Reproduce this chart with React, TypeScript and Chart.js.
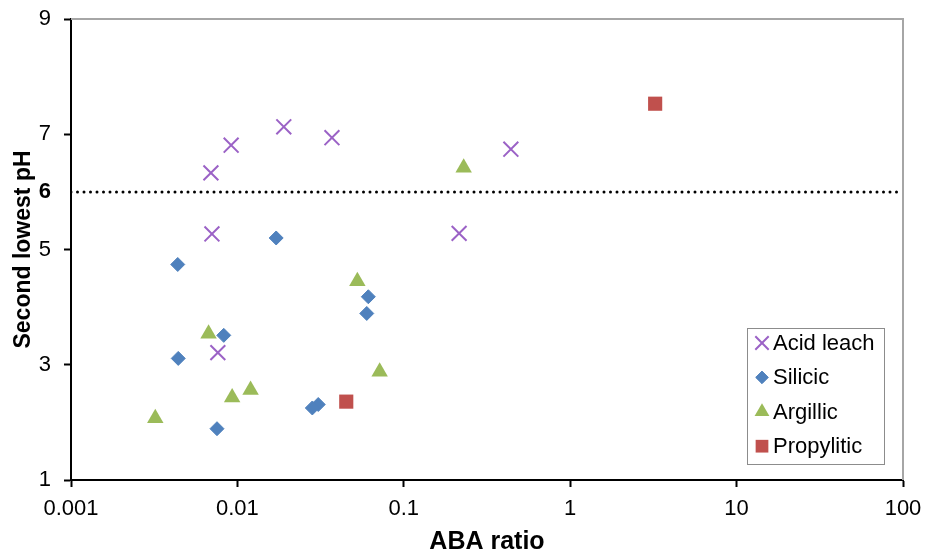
import React, { useEffect, useRef } from "react";
import { Chart, registerables, PointElement } from "chart.js";

Chart.register(...registerables);

// ABA ratio (x) and second lowest pH (y) for each alteration type
const acidLeachX = [0.00693, 0.00917, 0.019, 0.037, 0.44, 0.00703, 0.215, 0.00763];
const acidLeachY = [6.33, 6.81, 7.13, 6.94, 6.74, 5.27, 5.28, 3.21];
const silicicX = [0.0171, 0.00438, 0.0612, 0.0599, 0.00828, 0.00441, 0.0306, 0.0282, 0.00754];
const silicicY = [5.2, 4.74, 4.18, 3.89, 3.51, 3.11, 2.31, 2.25, 1.89];
const argillicX = [0.229, 0.0526, 0.00671, 0.0716, 0.012, 0.0093, 0.00321];
const argillicY = [6.42, 4.45, 3.54, 2.88, 2.56, 2.43, 2.07];
const propyliticX = [3.24, 0.0451];
const propyliticY = [7.53, 2.36];

const thresholdPH = 6;
const xRange = [0.001, 100];
const xTicks = [0.001, 0.01, 0.1, 1, 10, 100];
const yTicks = [1, 3, 5, 6, 7, 9];

const FONT = "'Liberation Sans', Arial, sans-serif";

const pts = (xs: number[], ys: number[]) => xs.map((x, i) => ({ x, y: ys[i] }));

// Boxed legend drawn inside the plot, lower right
const insetLegend = {
  id: "insetLegend",
  afterDraw(chart: any) {
    const ctx = chart.ctx as CanvasRenderingContext2D;
    const area = chart.chartArea;
    const boxW = 137;
    const boxH = 136;
    const left = area.right - 156;
    const top = area.bottom - 152;
    ctx.save();
    ctx.fillStyle = "#ffffff";
    ctx.fillRect(left, top, boxW, boxH);
    ctx.strokeStyle = "#8c8c8c";
    ctx.lineWidth = 1;
    ctx.strokeRect(left + 0.5, top + 0.5, boxW, boxH);
    const items = chart.data.datasets.filter((d: any) => d.label);
    items.forEach((d: any, i: number) => {
      const cy = top + 15 + i * 34.4;
      const pe = new (PointElement as any)({
        x: left + 15,
        y: cy,
        options: {
          pointStyle: d.pointStyle,
          rotation: 0,
          radius: d.pointRadius * 0.9,
          borderWidth: d.borderWidth,
          backgroundColor: d.backgroundColor,
          borderColor: d.borderColor,
        },
      });
      pe.draw(ctx, { left: 0, top: 0, right: chart.width, bottom: chart.height });
      ctx.fillStyle = "#000000";
      ctx.font = `22px ${FONT}`;
      ctx.textBaseline = "middle";
      ctx.textAlign = "left";
      ctx.fillText(d.label, left + 26, cy + 1);
    });
    ctx.restore();
  },
};

// Grey frame on the top and right of the plot area
const plotFrame = {
  id: "plotFrame",
  beforeDatasetsDraw(chart: any) {
    const { ctx, chartArea: a } = chart;
    ctx.save();
    ctx.strokeStyle = "#a6a6a6";
    ctx.lineWidth = 2;
    ctx.beginPath();
    ctx.moveTo(a.left, a.top);
    ctx.lineTo(a.right, a.top);
    ctx.lineTo(a.right, a.bottom);
    ctx.stroke();
    ctx.restore();
  },
};

export default function App() {
  const canvasRef = useRef<HTMLCanvasElement | null>(null);

  useEffect(() => {
    if (!canvasRef.current) return;
    const chart = new Chart(canvasRef.current, {
      type: "scatter",
      data: {
        datasets: [
          {
            label: "Acid leach",
            data: pts(acidLeachX, acidLeachY),
            pointStyle: "crossRot",
            pointRadius: 10.5,
            borderWidth: 2,
            borderColor: "#9b62c6",
            backgroundColor: "#9b62c6",
            order: 1,
          },
          {
            label: "Silicic",
            data: pts(silicicX, silicicY),
            pointStyle: "rectRot",
            pointRadius: 7,
            borderWidth: 1,
            borderColor: "#4f81bd",
            backgroundColor: "#4f81bd",
            order: 2,
          },
          {
            label: "Argillic",
            data: pts(argillicX, argillicY),
            pointStyle: "triangle",
            pointRadius: 9.5,
            borderWidth: 0,
            borderColor: "#9bbb59",
            backgroundColor: "#9bbb59",
            order: 3,
          },
          {
            label: "Propylitic",
            data: pts(propyliticX, propyliticY),
            pointStyle: "rect",
            pointRadius: 10,
            borderWidth: 0,
            borderColor: "#c0504d",
            backgroundColor: "#c0504d",
            order: 4,
          },
          {
            label: "",
            data: [
              { x: xRange[0], y: thresholdPH },
              { x: xRange[1], y: thresholdPH },
            ],
            showLine: true,
            pointRadius: 0,
            borderColor: "#000000",
            borderWidth: 3,
            borderDash: [0, 6.5],
            borderCapStyle: "round",
            order: 10,
          } as any,
        ],
      },
      options: {
        responsive: false,
        animation: false,
        events: [],
        layout: { autoPadding: false, padding: { left: 0, right: 32, top: 19, bottom: 0 } },
        plugins: {
          legend: { display: false },
          tooltip: { enabled: false },
        },
        scales: {
          x: {
            type: "logarithmic",
            min: xRange[0],
            max: xRange[1],
            afterBuildTicks: (scale: any) => {
              scale.ticks = xTicks.map((v) => ({ value: v }));
            },
            afterFit: (scale: any) => {
              scale.height = 72;
              scale.paddingLeft = 0;
              scale.paddingRight = 0;
            },
            ticks: {
              color: "#000000",
              font: { family: FONT, size: 22 },
              padding: 8.5,
              maxRotation: 0,
              autoSkip: false,
              callback: (v: any) => String(v),
            },
            grid: {
              display: true,
              drawOnChartArea: false,
              drawTicks: true,
              tickLength: 7,
              tickWidth: 2,
              tickColor: "#000000",
            },
            border: { display: true, color: "#000000", width: 2 },
            title: {
              display: true,
              text: "ABA ratio",
              color: "#000000",
              font: { family: FONT, size: 25, weight: "bold" },
              padding: { top: 0, bottom: -5 },
            },
          },
          y: {
            type: "linear",
            min: 1,
            max: 9,
            afterBuildTicks: (scale: any) => {
              scale.ticks = yTicks.map((v) => ({ value: v }));
            },
            afterFit: (scale: any) => {
              scale.width = 71;
              scale.paddingTop = 0;
              scale.paddingBottom = 0;
            },
            ticks: {
              color: "#000000",
              padding: 13,
              autoSkip: false,
              font: (ctx: any) => ({
                family: FONT,
                size: 22,
                weight: ctx.tick && ctx.tick.value === thresholdPH ? "bold" : "normal",
              }),
              callback: (v: any) => String(v),
            },
            grid: {
              display: true,
              drawOnChartArea: false,
              drawTicks: true,
              tickLength: 7,
              tickWidth: 2,
              tickColor: (ctx: any) =>
                ctx.tick && ctx.tick.value === thresholdPH ? "rgba(0,0,0,0)" : "#000000",
            },
            border: { display: true, color: "#000000", width: 2 },
            title: {
              display: true,
              text: "Second lowest pH",
              color: "#000000",
              font: { family: FONT, size: 23, weight: "bold" },
              padding: { top: 10, bottom: 0 },
            },
          },
        },
      },
      plugins: [plotFrame, insetLegend],
    } as any);
    return () => chart.destroy();
  }, []);

  return (
    <div
      style={{
        position: "fixed",
        left: 0,
        top: 0,
        width: 935,
        height: 552,
        background: "#ffffff",
      }}
    >
      <canvas ref={canvasRef} width={935} height={552} style={{ display: "block" }} />
    </div>
  );
}
